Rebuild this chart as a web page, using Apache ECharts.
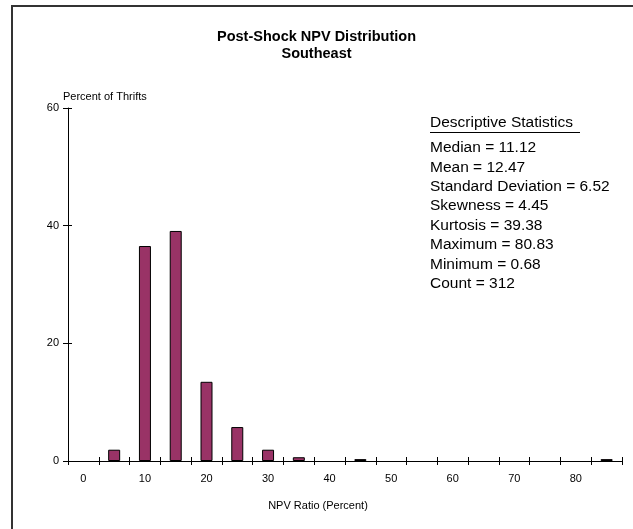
<!DOCTYPE html>
<html>
<head>
<meta charset="UTF-8">
<title>Post-Shock NPV Distribution</title>
<script src="https://cdn.jsdelivr.net/npm/echarts@6/dist/echarts.min.js"></script>
<style>
  html, body { margin: 0; padding: 0; background: #fff; }
  #chart { width: 633px; height: 529px; }
</style>
</head>
<body>
<div id="chart"></div>
<script>
// NPV ratio buckets (percent), 5-point bins
var categories = ['0', '5', '10', '15', '20', '25', '30', '35', '40', '45', '50',
                  '55', '60', '65', '70', '75', '80', '85'];
// percent of thrifts in each bin
var percents = [0, 1.92, 36.54, 39.10, 13.46, 5.77, 1.92, 0.64, 0, 0.32, 0,
                0, 0, 0, 0, 0, 0, 0.32];
var yTicks = [0, 20, 40, 60];
var statsTitle = 'Descriptive Statistics';
var statsLines = [
  'Median = 11.12',
  'Mean = 12.47',
  'Standard Deviation = 6.52',
  'Skewness = 4.45',
  'Kurtosis = 39.38',
  'Maximum = 80.83',
  'Minimum = 0.68',
  'Count = 312'
];

var font = 'Liberation Sans, Arial, sans-serif';
var chart = echarts.init(document.getElementById('chart'));

var graphics = [
  {
    type: 'rect',
    shape: { x: 12, y: 6, width: 640, height: 540 },
    style: { fill: 'none', stroke: '#333', lineWidth: 2 },
    silent: true
  },
  {
    type: 'text', left: 430, top: 115,
    style: { text: statsTitle, font: '15.5px ' + font, fill: '#000' }
  },
  {
    type: 'line',
    shape: { x1: 430, y1: 132.5, x2: 580, y2: 132.5 },
    style: { stroke: '#000', lineWidth: 1 }
  },
  {
    type: 'text', x: 318, y: 506,
    style: { text: 'NPV Ratio (Percent)', font: '11px ' + font, fill: '#000',
             align: 'center', verticalAlign: 'middle' }
  }
];
statsLines.forEach(function (t, i) {
  graphics.push({
    type: 'text', left: 430, top: 140 + i * 19.4,
    style: { text: t, font: '15.5px ' + font, fill: '#000' }
  });
});

// empty bins get no bar at all
var barData = percents.map(function (v) { return v > 0 ? v : '-'; });

// ticks cross the axis: the tick-bearing axes are shifted 4px into the plot
// with long outward ticks, while a plain copy draws the actual axis line
var option = {
  backgroundColor: '#fff',
  animation: false,
  title: {
    text: 'Post-Shock NPV Distribution\nSoutheast',
    left: 'center',
    top: 23,
    textStyle: { fontFamily: font, fontSize: 14.5, fontWeight: 'bold', color: '#000', lineHeight: 17 }
  },
  grid: { left: 68, right: 11, top: 108, bottom: 68, containLabel: false },
  xAxis: [
    {
      type: 'category',
      data: categories,
      boundaryGap: true,
      offset: -4,
      axisLine: { show: true, lineStyle: { color: '#000', opacity: 0 } },
      axisTick: { show: true, interval: 0, length: 8, lineStyle: { color: '#000' } },
      axisLabel: { interval: 1, margin: 16, fontFamily: font, fontSize: 11, color: '#000' },
      splitLine: { show: false }
    },
    {
      type: 'category',
      data: categories,
      position: 'bottom',
      boundaryGap: true,
      axisLine: { show: true, lineStyle: { color: '#000', width: 1 } },
      axisTick: { show: false },
      axisLabel: { show: false },
      splitLine: { show: false }
    }
  ],
  yAxis: [
    {
      type: 'value',
      min: yTicks[0],
      max: yTicks[yTicks.length - 1],
      interval: 20,
      offset: -4,
      name: 'Percent of Thrifts',
      nameLocation: 'end',
      nameGap: 6,
      nameTextStyle: { fontFamily: font, fontSize: 11, color: '#000', align: 'left', padding: [0, 0, 0, -9] },
      axisLine: { show: true, lineStyle: { color: '#000', opacity: 0 } },
      axisTick: { show: true, length: 9, lineStyle: { color: '#000' } },
      axisLabel: { margin: 13, fontFamily: font, fontSize: 11, color: '#000' },
      splitLine: { show: false }
    },
    {
      type: 'value',
      position: 'left',
      min: yTicks[0],
      max: yTicks[yTicks.length - 1],
      interval: 20,
      axisLine: { show: true, lineStyle: { color: '#000', width: 1 } },
      axisTick: { show: false },
      axisLabel: { show: false },
      splitLine: { show: false }
    }
  ],
  series: [
    {
      type: 'bar',
      data: barData,
      barWidth: 12,
      itemStyle: { color: '#993366', borderColor: '#000', borderWidth: 1 }
    }
  ],
  graphic: graphics
};

chart.setOption(option);
</script>
</body>
</html>
